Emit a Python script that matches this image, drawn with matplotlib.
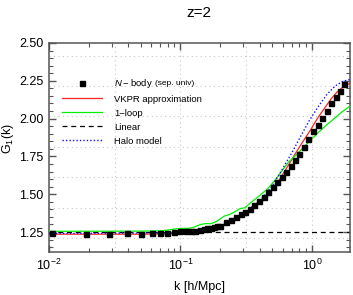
import numpy as np
import matplotlib
matplotlib.use("Agg")
import matplotlib.pyplot as plt
from matplotlib.ticker import MultipleLocator, LogLocator

plt.rcParams['font.family'] = ['Liberation Sans', 'DejaVu Sans']
plt.rcParams['mathtext.fontset'] = 'custom'
plt.rcParams['mathtext.rm'] = 'Liberation Sans'
plt.rcParams['mathtext.it'] = 'Liberation Sans:italic'
plt.rcParams['mathtext.bf'] = 'Liberation Sans:bold'

# ---- data ----
k_nbody = [0.0106, 0.0191, 0.0288, 0.039, 0.0498, 0.061, 0.0699, 0.079, 0.09, 0.1,
           0.11, 0.12, 0.13, 0.14, 0.15, 0.16, 0.17, 0.18, 0.19, 0.2,
           0.222, 0.242, 0.263, 0.287, 0.309, 0.338, 0.364, 0.397, 0.432, 0.465,
           0.502, 0.545, 0.589, 0.634, 0.689, 0.743, 0.803, 0.873, 0.938, 1.023,
           1.104, 1.197, 1.293, 1.394, 1.514, 1.633, 1.75]
g_nbody = [1.242, 1.240, 1.240, 1.243, 1.237, 1.243, 1.242, 1.242, 1.248, 1.256,
           1.257, 1.257, 1.258, 1.263, 1.268, 1.274, 1.280, 1.285, 1.289, 1.293,
           1.318, 1.327, 1.347, 1.370, 1.380, 1.405, 1.429, 1.453, 1.483, 1.513,
           1.546, 1.579, 1.612, 1.649, 1.687, 1.726, 1.769, 1.814, 1.863, 1.916,
           1.961, 2.002, 2.050, 2.101, 2.145, 2.185, 2.227]

k_vkpr = [0.01, 0.05, 0.08, 0.1, 0.13, 0.16, 0.2, 0.25, 0.3, 0.35, 0.4, 0.45, 0.5,
          0.57, 0.66, 0.75, 0.85, 0.96, 1.1, 1.25, 1.4, 1.55, 1.7, 1.85, 2.0]
g_vkpr = [1.236, 1.236, 1.238, 1.243, 1.252, 1.267, 1.29, 1.325, 1.362, 1.405, 1.445,
          1.49, 1.535, 1.60, 1.69, 1.77, 1.845, 1.915, 2.0, 2.07, 2.13, 2.175, 2.205,
          2.225, 2.238]

k_loop = [0.01, 0.05, 0.07, 0.08, 0.09, 0.1, 0.115, 0.125, 0.14, 0.155, 0.17, 0.183,
          0.2, 0.215, 0.235, 0.26, 0.284, 0.309, 0.338, 0.39, 0.465, 0.55, 0.66,
          0.75, 0.83, 0.96, 1.11, 1.3, 1.5, 1.7, 2.0]
g_loop = [1.255, 1.256, 1.258, 1.263, 1.27, 1.274, 1.274, 1.28, 1.298, 1.306, 1.305,
          1.315, 1.335, 1.355, 1.365, 1.384, 1.405, 1.41, 1.44, 1.483, 1.539, 1.616,
          1.71, 1.755, 1.795, 1.85, 1.905, 1.96, 2.005, 2.045, 2.09]

k_lin = [0.01, 2.0]
g_lin = [1.25, 1.25]

k_halo = [0.01, 0.1, 0.15, 0.2, 0.3, 0.4, 0.5, 0.6, 0.7, 0.83, 0.96, 1.11, 1.3,
          1.5, 1.7, 2.0]
g_halo = [1.240, 1.245, 1.262, 1.29, 1.37, 1.455, 1.555, 1.67, 1.77, 1.89, 1.99,
          2.075, 2.16, 2.215, 2.245, 2.262]

grid_y = [1.208, 1.41, 1.612, 1.814, 2.015, 2.216, 2.417]
grid_x = [10**-1.5, 10**-1, 10**-0.5, 1.0]

# ---- figure ----
fig = plt.figure(figsize=(3.53, 2.95), dpi=100)
ax = fig.add_axes([49/353, 1-252/295, 301/353, 209/295])
ax.set_xscale('log')
ax.set_xlim(0.01, 1.95)
ax.set_ylim(1.118, 2.5)

for gy in grid_y:
    ax.axhline(gy, color='#c8c8c8', lw=0.8, ls=(0, (1, 3)), zorder=0)
for gx in grid_x:
    ax.axvline(gx, color='#c8c8c8', lw=0.8, ls=(0, (1, 3)), zorder=0)

ax.plot(k_lin, g_lin, color='black', lw=0.9, ls=(0, (4, 3)), label='Linear', zorder=2)
ax.plot(k_vkpr, g_vkpr, color='#ff2020', lw=0.9, label='VKPR approximation', zorder=3)
ax.plot(k_loop, g_loop, color='#00ee00', lw=0.9, label='1\u2212loop', zorder=3)
ax.plot(k_halo, g_halo, color='#1010ff', lw=1.0, ls=(0, (1, 1.5)), label='Halo model', zorder=3)
ax.plot(k_nbody, g_nbody, ls='none', marker='s', ms=3.6, color='black',
        label='$N$\u2009\u2212\u2009body', zorder=4)

handles, labels = ax.get_legend_handles_labels()
order = [4, 1, 2, 0, 3]
leg = ax.legend([handles[i] for i in order], [labels[i] for i in order],
                loc='upper left', bbox_to_anchor=(0.043, 0.838), frameon=False,
                fontsize=6.8, handlelength=4.2, handletextpad=1.35,
                labelspacing=0.52, borderpad=0, borderaxespad=0, numpoints=1)

# ticks
ax.yaxis.set_major_locator(MultipleLocator(0.25))
ax.yaxis.set_minor_locator(MultipleLocator(0.05))
ax.yaxis.set_major_formatter(matplotlib.ticker.FormatStrFormatter('%.2f'))
ax.xaxis.set_major_locator(LogLocator(base=10, numticks=10))
ax.xaxis.set_minor_locator(LogLocator(base=10, subs=np.arange(2, 10), numticks=20))
ax.tick_params(which='both', direction='in', top=True, right=True,
               color='#555555', labelsize=9, pad=4)
ax.tick_params(which='major', length=5, width=1.0)
ax.tick_params(which='minor', length=3, width=0.8)
for s in ax.spines.values():
    s.set_color('#555555')
    s.set_linewidth(1.1)

ax.set_xlabel('k [h/Mpc]', fontsize=9, labelpad=6)
fig.text(8/353, 1-139/295, 'G$_1$(k)', fontsize=9, rotation=90,
         ha='center', va='center')
fig.text(199/353, 1-13/295, 'z=2', fontsize=11, ha='center', va='center')

# smaller "(sep. univ)" after the N-body legend label
fig.canvas.draw()
t0 = leg.get_texts()[0]
bb = t0.get_window_extent()
inv = fig.transFigure.inverted()
x1, y0 = inv.transform((bb.x1, bb.y0 + 0.5 * bb.height))
fig.text(x1 + 2/353, y0, '(sep. univ)', fontsize=6.0, ha='left', va='center')

fig.savefig('out.png', dpi=100)
